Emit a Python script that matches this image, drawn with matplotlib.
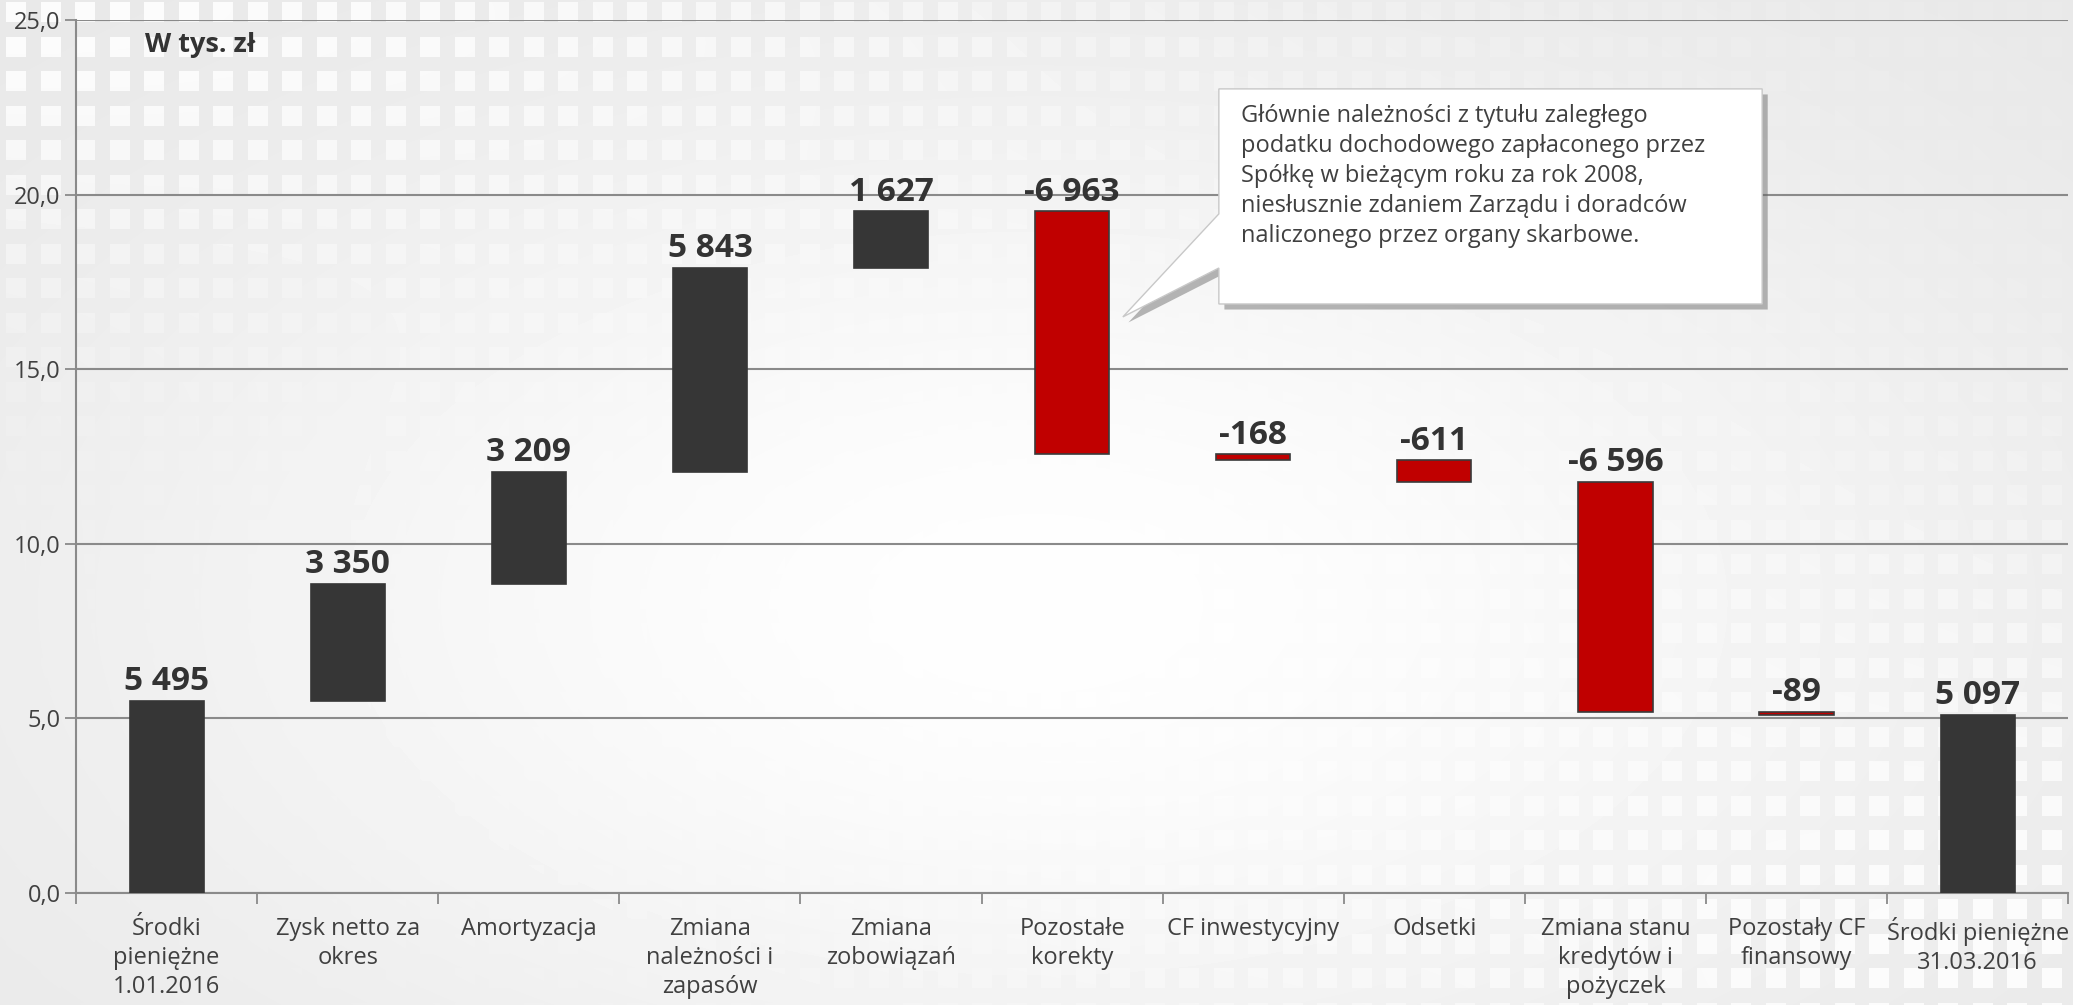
import numpy as np
import matplotlib
matplotlib.use('Agg')
import matplotlib.pyplot as plt
from matplotlib.patches import Polygon
import matplotlib.patheffects as pe

plt.rcParams['font.family'] = ['Open Sans', 'DejaVu Sans']

categories = ['Środki\npieniężne\n1.01.2016', 'Zysk netto za\nokres', 'Amortyzacja',
              'Zmiana\nnależności i\nzapasów', 'Zmiana\nzobowiązań', 'Pozostałe\nkorekty',
              'CF inwestycyjny', 'Odsetki', 'Zmiana stanu\nkredytów i\npożyczek',
              'Pozostały CF\nfinansowy', 'Środki pieniężne\n31.03.2016']
values = [5495, 3350, 3209, 5843, 1627, -6963, -168, -611, -6596, -89, 5097]
is_total = [True, False, False, False, False, False, False, False, False, False, True]
yticks = [0, 5, 10, 15, 20, 25]
note = ('Głównie należności z tytułu zaległego\n'
        'podatku dochodowego zapłaconego przez\n'
        'Spółkę w bieżącym roku za rok 2008,\n'
        'niesłusznie zdaniem Zarządu i doradców\n'
        'naliczonego przez organy skarbowe.')

DARK = '#363636'
RED = '#c00000'
TXT = '#404040'

fig = plt.figure(figsize=(20.73, 10.05), dpi=100)

# background: grey gradient with faint white square pattern in the corners
H, W = 1005, 2073
yy, xx = np.mgrid[0:H, 0:W]
u = xx / W
v = yy / H
base = 0.905 + 0.09 * np.exp(-(((u - 0.5) / 0.45) ** 2 + ((v - 0.6) / 0.5) ** 2))
w = np.maximum(np.exp(-((u / 0.55) ** 2 + (v / 0.28) ** 2)),
               np.exp(-(((u - 1) / 0.4) ** 2 + ((v - 1) / 0.45) ** 2)))
sq = ((xx - 6) % 34.5 < 20) & ((yy - 2) % 34.5 < 20)
img = np.where(sq, base + (1.0 - base) * 0.85 * w, base)
bg = fig.add_axes([0, 0, 1, 1], zorder=-10)
bg.imshow(img, cmap='gray', vmin=0, vmax=1, aspect='auto', interpolation='bilinear')
bg.axis('off')

ax = fig.add_axes([0.0367, 0.1114, 0.961, 0.8686])
ax.patch.set_visible(False)

x = np.arange(len(values))
bottoms = []
heights = []
run = 0.0
for val, tot in zip(values, is_total):
    h = val / 1000.0
    if tot:
        bottoms.append(0.0)
        run = h
    else:
        bottoms.append(run)
        run += h
    heights.append(h)

colors = [RED if (val < 0) else DARK for val in values]
edges = ['#3a3a3a' if (val < 0) else DARK for val in values]
ax.bar(x, heights, bottom=bottoms, width=0.41, color=colors, edgecolor=edges,
       linewidth=1.2, zorder=3)

for i, val in enumerate(values):
    top = max(bottoms[i], bottoms[i] + heights[i])
    lab = f'{val:,}'.replace(',', ' ')
    ax.annotate(lab, (x[i], top), xytext=(0, 2), textcoords='offset points',
                ha='center', va='bottom', fontsize=24, fontweight='bold', color='#333333')

ax.set_xlim(-0.5, len(values) - 0.5)
ax.set_ylim(0, 25)
ax.set_yticks(yticks)
ax.set_yticklabels([f'{t:.1f}'.replace('.', ',') for t in yticks], fontsize=17, color=TXT)
ax.yaxis.grid(True, color='#8a8a8a', linewidth=1.5, zorder=0)
ax.set_axisbelow(True)
ax.tick_params(axis='y', length=8, width=1.3, color='#8a8a8a', pad=3)

ax.set_xticks(x)
ax.set_xticklabels(categories, fontsize=17, color=TXT, linespacing=1.3)
ax.set_xticks(np.arange(-0.5, len(values)), minor=True)
ax.tick_params(axis='x', which='major', length=0, pad=17)
ax.tick_params(axis='x', which='minor', length=8, width=1.3, color='#8a8a8a')
for s in ['top', 'right']:
    ax.spines[s].set_visible(False)
for s in ['left', 'bottom']:
    ax.spines[s].set_color('#8a8a8a')
    ax.spines[s].set_linewidth(1.5)

ax.text(-0.12, 24.3, 'W tys. zł', fontsize=19.5, fontweight='bold', color='#333333',
        ha='left', va='center')

# callout box
x0, x1, yt, yb = 5.81, 8.81, 23.03, 16.87
pts = [(x0, yt), (x1, yt), (x1, yb), (x0, yb), (x0, 17.9), (5.28, 16.5), (x0, 19.45)]
callout = Polygon(pts, closed=True, facecolor='white', edgecolor='#c8c8c8', linewidth=1,
                  zorder=5)
callout.set_path_effects([pe.SimplePatchShadow(offset=(4, -4), shadow_rgbFace='#606060', alpha=0.45),
                          pe.Normal()])
ax.add_patch(callout)
ax.text(x0 + 0.12, yt - 0.42, note, fontsize=17, color=TXT, ha='left', va='top',
        linespacing=1.34, zorder=6)

fig.savefig('out.png', dpi=100)
